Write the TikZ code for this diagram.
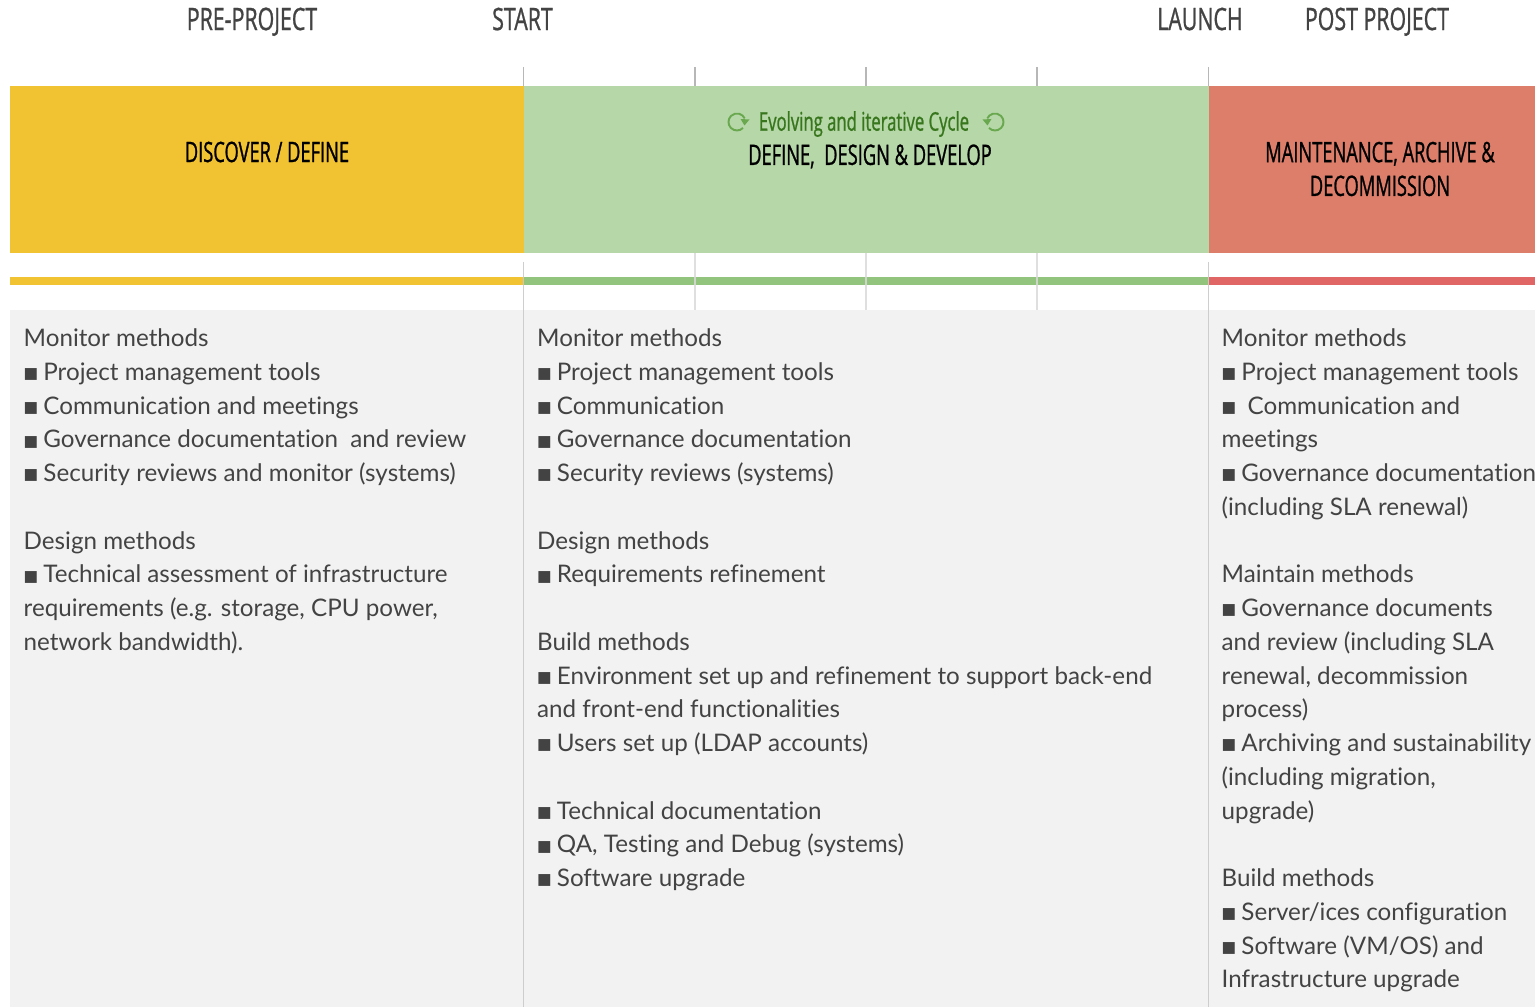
\documentclass[tikz,border=0pt]{standalone}
\usepackage{fontspec}
\setmainfont[Ligatures=NoCommon]{Lato}
\newfontfamily\headfont[FakeStretch=0.65,FakeBold=0.9]{Open Sans}
\newfontfamily\stepfont[FakeStretch=0.69,FakeBold=0.9]{Open Sans}
\newfontfamily\symfont{DejaVu Sans}
\definecolor{yellowc}{HTML}{F1C232}
\definecolor{greenc}{HTML}{B6D7A8}
\definecolor{redc}{HTML}{DD7E6B}
\definecolor{greenbar}{HTML}{93C47D}
\definecolor{redbar}{HTML}{E06666}
\definecolor{panelc}{HTML}{F2F2F2}
\definecolor{tickc}{HTML}{B7B7B7}
\definecolor{softtick}{HTML}{D9D9D9}
\definecolor{textc}{HTML}{434343}
\definecolor{cyclec}{HTML}{38761D}
\definecolor{iconc}{HTML}{6AA84F}
\newcommand{\sqb}{\raisebox{.5pt}{\symfont\fontsize{4.4pt}{9.6pt}\selectfont■}\hspace{1.45pt}}
\tikzset{
  headlbl/.style={font=\headfont\fontsize{8pt}{9.6pt}\selectfont, text=black, inner sep=0, align=center},
  steplbl/.style={font=\stepfont\fontsize{8.8pt}{9.6pt}\selectfont, text=textc, inner sep=0,
    text height=6.3pt, text depth=0pt},
  bodytxt/.style={anchor=north west, inner sep=0, align=left, text=textc,
    font=\fontsize{6.88pt}{9.6pt}\selectfont},
  cycleicon/.style={iconc, line width=.55pt},
}
\begin{document}
\begin{tikzpicture}[x=.01cm, y=-.01cm]
    \useasboundingbox (0, 0) rectangle (1535, 1007) ;
    % coloured bands
    \fill[yellowc] (10, 86) rectangle (523.5, 253) ;
    \fill[greenc] (523.5, 86) rectangle (1208.5, 253) ;
    \fill[redc] (1208.5, 86) rectangle (1535, 253) ;
    \fill[yellowc] (10, 277) rectangle (523.5, 285) ;
    \fill[greenbar] (523.5, 277) rectangle (1208.5, 285) ;
    \fill[redbar] (1208.5, 277) rectangle (1535, 285) ;
    \fill[panelc] (10, 310) rectangle (1535, 1007) ;
    % ticks
    \foreach \x in {523.5, 695, 866, 1037, 1208.5}
      \draw[tickc, line width=.4pt] (\x, 67) -- (\x, 86) ;
    \foreach \x in {695, 866, 1037}
      \draw[softtick, opacity=.85, line width=.55pt] (\x, 253) -- (\x, 310) ;
    \foreach \x in {523.5, 1208.5} {
      \draw[tickc!75, opacity=.9, line width=.45pt] (\x, 262) -- (\x, 1007) ;
    }
    % phase names
    \node[steplbl] (preproject) at (252, 19) {PRE-PROJECT} ;
    \node[steplbl] (start) at (522.5, 19) {START} ;
    \node[steplbl] (launch) at (1200, 19) {LAUNCH} ;
    \node[steplbl] (postproject) at (1377, 19) {POST PROJECT} ;
    % band titles
    \node[headlbl] (discover) at (267, 152) {DISCOVER / DEFINE} ;
    \node[headlbl, text=cyclec, font=\headfont\fontsize{7.3pt}{9.6pt}\selectfont] (cycle) at (864, 124) {Evolving and iterative Cycle} ;
    \node[headlbl] (design) at (870, 156.5) {DEFINE,\ \ DESIGN \& DEVELOP} ;
    \node[headlbl] (maintain) at (1380, 169) {MAINTENANCE, ARCHIVE \&\\DECOMMISSION} ;
    \draw[cycleicon] (743, 128) arc[start angle=45, end angle=335, radius=8.5] ;
    \fill[iconc] (740.5, 119) -- (749.5, 119.5) -- (744.5, 125.5) -- cycle ;
    \draw[cycleicon] (989, 128) arc[start angle=135, end angle=-155, radius=8.5] ;
    \fill[iconc] (991.5, 119) -- (982.5, 119.5) -- (987.5, 125.5) -- cycle ;
    % column texts
    \node[bodytxt] (discovertxt) at (23, 328) {Monitor methods\\
      \sqb Project management tools\\
      \sqb Communication and meetings\\
      \sqb Governance documentation\ \ and review\\
      \sqb Security reviews and monitor (systems)\\
      \mbox{}\\
      Design methods\\
      \sqb Technical assessment of infrastructure\\
      requirements (e.g. storage, CPU power,\\
      network bandwidth).} ;
    \node[bodytxt] (designtxt) at (536.5, 328) {Monitor methods\\
      \sqb Project management tools\\
      \sqb Communication\\
      \sqb Governance documentation\\
      \sqb Security reviews (systems)\\
      \mbox{}\\
      Design methods\\
      \sqb Requirements refinement\\
      \mbox{}\\
      Build methods\\
      \sqb Environment set up and refinement to support back-end\\
      and front-end functionalities\\
      \sqb Users set up (LDAP accounts)\\
      \mbox{}\\
      \sqb Technical documentation\\
      \sqb QA, Testing and Debug (systems)\\
      \sqb Software upgrade} ;
    \node[bodytxt] (maintaintxt) at (1221, 328) {Monitor methods\\
      \sqb Project management tools\\
      \sqb\ Communication and\\
      meetings\\
      \sqb Governance documentation\\
      (including SLA renewal)\\
      \mbox{}\\
      Maintain methods\\
      \sqb Governance documents\\
      and review (including SLA\\
      renewal, decommission\\
      process)\\
      \sqb Archiving and sustainability\\
      (including migration,\\
      upgrade)\\
      \mbox{}\\
      Build methods\\
      \sqb Server/ices configuration\\
      \sqb Software (VM/OS) and\\
      Infrastructure upgrade} ;
\end{tikzpicture}
\end{document}
